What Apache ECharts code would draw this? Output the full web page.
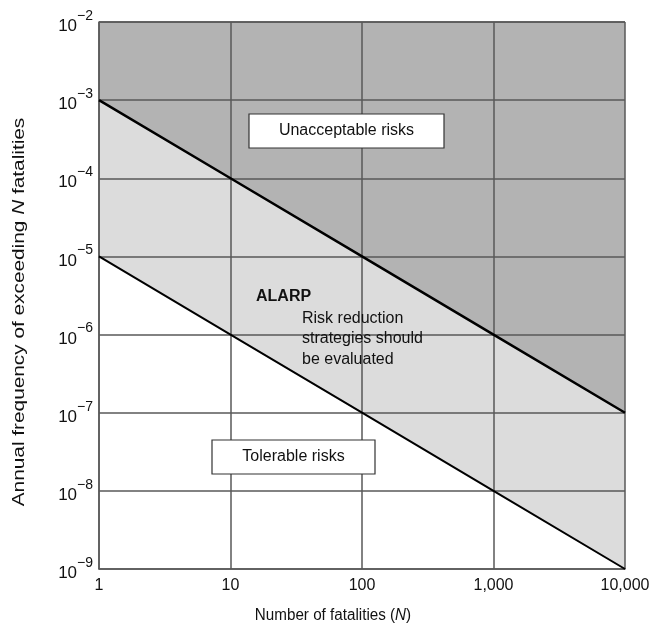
<!DOCTYPE html>
<html>
<head>
<meta charset="utf-8">
<style>html,body{margin:0;padding:0;background:#fff}#c{width:653px;height:629px}</style>
<script src="https://cdn.jsdelivr.net/npm/echarts@6/dist/echarts.min.js"></script>
</head>
<body>
<div id="c"></div>
<script>
// Data
const fatalities = [1, 10, 100, 1000, 10000];
const unacceptableLimit = [1e-3, 1e-4, 1e-5, 1e-6, 1e-7];
const tolerableLimit = [1e-5, 1e-6, 1e-7, 1e-8, 1e-9];
const xTickLabels = ['1', '10', '100', '1,000', '10,000'];
const yExponents = ['−9', '−8', '−7', '−6', '−5', '−4', '−3', '−2'];

const chart = echarts.init(document.getElementById('c'));
const upper = fatalities.map((n, i) => [n, unacceptableLimit[i]]);
const lower = fatalities.map((n, i) => [n, tolerableLimit[i]]);
const font = 'Liberation Sans, Arial, sans-serif';
const gridColor = '#585858';

chart.setOption({
  animation: false,
  backgroundColor: '#fff',
  grid: { left: 99, right: 28, top: 22, bottom: 60, show: false },
  xAxis: {
    type: 'log', logBase: 10, min: 1, max: 10000, z: 3,
    axisLine: { show: true, onZero: false, lineStyle: { color: gridColor, width: 1.5 } },
    axisTick: { show: false },
    splitLine: { show: true, lineStyle: { color: gridColor, width: 1.5 } },
    minorSplitLine: { show: false },
    axisLabel: {
      color: '#111', fontFamily: font, fontSize: 16, margin: 9,
      formatter: v => { const i = Math.round(Math.log10(v)); return xTickLabels[i] || ''; }
    }
  },
  yAxis: {
    type: 'log', logBase: 10, min: 1e-9, max: 1e-2, z: 3,
    axisLine: { show: true, lineStyle: { color: gridColor, width: 1.5 } },
    axisTick: { show: false },
    splitLine: { show: true, lineStyle: { color: gridColor, width: 1.5 } },
    axisLabel: {
      color: '#111', fontFamily: font, margin: 6,
      formatter: v => { const e = Math.round(Math.log10(v)); const idx = e + 9; return '{b|10}{s|' + (yExponents[idx] || '') + '}'; },
      rich: {
        b: { fontSize: 17, fontFamily: font, color: '#111', lineHeight: 26, verticalAlign: 'bottom' },
        s: { fontSize: 14, fontFamily: font, color: '#111', lineHeight: 26, verticalAlign: 'top' }
      }
    }
  },
  series: [
    { type: 'line', data: upper, z: 1, symbol: 'none', silent: true,
      lineStyle: { width: 0 }, areaStyle: { origin: 'end', color: '#b3b3b3', opacity: 1 } },
    { type: 'line', data: upper, z: 1, symbol: 'none', silent: true,
      lineStyle: { width: 0 }, areaStyle: { origin: 'start', color: '#dcdcdc', opacity: 1 } },
    { type: 'line', data: lower, z: 1, symbol: 'none', silent: true,
      lineStyle: { width: 0 }, areaStyle: { origin: 'start', color: '#ffffff', opacity: 1 } },
    { type: 'line', data: upper, z: 5, symbol: 'none', silent: true,
      lineStyle: { width: 2.5, color: '#000' } },
    { type: 'line', data: lower, z: 5, symbol: 'none', silent: true,
      lineStyle: { width: 2, color: '#000' } }
  ],
  graphic: [
    { type: 'text', z: 11, x: 20, y: 312, rotation: Math.PI / 2, scaleX: 1.3,
      style: { text: 'Annual frequency of exceeding {i|N} fatalities', font: '16px ' + font, fill: '#111',
        align: 'center', verticalAlign: 'middle',
        rich: { i: { fontStyle: 'italic', fontSize: 16, fontFamily: font, fill: '#111' } } } },
    { type: 'text', z: 11, x: 333, y: 616, scaleX: 0.95,
      style: { text: 'Number of fatalities ({i|N})', font: '16px ' + font, fill: '#111',
        align: 'center', verticalAlign: 'middle',
        rich: { i: { fontStyle: 'italic', fontSize: 16, fontFamily: font, fill: '#111' } } } },
    { type: 'rect', z: 10, shape: { x: 249, y: 114, width: 195, height: 34 },
      style: { fill: '#fff', stroke: '#333', lineWidth: 1.2 } },
    { type: 'text', z: 11, x: 346.5, y: 131,
      style: { text: 'Unacceptable risks', font: '16px ' + font, fill: '#111', align: 'center', verticalAlign: 'middle' } },
    { type: 'rect', z: 10, shape: { x: 212, y: 440, width: 163, height: 34 },
      style: { fill: '#fff', stroke: '#333', lineWidth: 1.2 } },
    { type: 'text', z: 11, x: 293.5, y: 457,
      style: { text: 'Tolerable risks', font: '16px ' + font, fill: '#111', align: 'center', verticalAlign: 'middle' } },
    { type: 'text', z: 11, x: 256, y: 297,
      style: { text: 'ALARP', font: 'bold 16px ' + font, fill: '#111', align: 'left', verticalAlign: 'middle' } },
    { type: 'text', z: 11, x: 302, y: 308,
      style: { text: 'Risk reduction\nstrategies should\nbe evaluated', font: '16px ' + font, lineHeight: 20.5, fill: '#111', align: 'left', verticalAlign: 'top' } }
  ]
});
</script>
</body>
</html>
